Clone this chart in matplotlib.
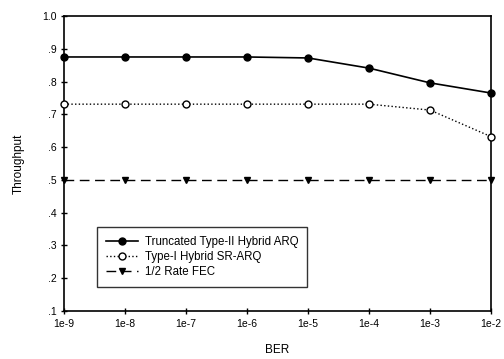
import matplotlib
matplotlib.use("Agg")
import matplotlib.pyplot as plt

plt.rcParams['font.family'] = ['Liberation Sans', 'DejaVu Sans']

ber = [1e-9, 1e-8, 1e-7, 1e-6, 1e-5, 1e-4, 1e-3, 1e-2]
xtick_labels = ['1e-9', '1e-8', '1e-7', '1e-6', '1e-5', '1e-4', '1e-3', '1e-2']
type2 = [0.875, 0.875, 0.875, 0.875, 0.872, 0.841, 0.796, 0.765]
type1 = [0.731, 0.731, 0.731, 0.731, 0.731, 0.731, 0.713, 0.632]
fec = [0.5, 0.5, 0.5, 0.5, 0.5, 0.5, 0.5, 0.5]
yticks = [0.1, 0.2, 0.3, 0.4, 0.5, 0.6, 0.7, 0.8, 0.9, 1.0]
ytick_labels = ['.1', '.2', '.3', '.4', '.5', '.6', '.7', '.8', '.9', '1.0']

fig = plt.figure(figsize=(5.04, 3.59), dpi=100)
ax = fig.add_axes([64/504, 1-311/359, 427/504, 295/359])

ax.plot(ber, type2, '-', color='black', lw=1.2, marker='o', ms=5,
        mfc='black', mec='black', label='Truncated Type-II Hybrid ARQ', clip_on=False)
ax.plot(ber, type1, ':', color='black', lw=1.0, marker='o', ms=5,
        mfc='white', mec='black', label='Type-I Hybrid SR-ARQ', clip_on=False, zorder=3)
ax.plot(ber, fec, '--', color='black', lw=1.0, marker='v', ms=5, dashes=(7, 4),
        mfc='black', mec='black', label='1/2 Rate FEC', clip_on=False)

ax.set_xscale('log')
ax.set_xlim(1e-9, 1e-2)
ax.set_ylim(0.1, 1.0)
ax.set_xticks(ber)
ax.set_xticklabels(xtick_labels)
ax.minorticks_off()
ax.set_yticks(yticks)
ax.set_yticklabels(ytick_labels)
ax.tick_params(direction='inout', length=5, width=1, labelsize=7.5, pad=3)
for s in ax.spines.values():
    s.set_linewidth(1.2)

ax.set_xlabel('BER', fontsize=8.5, labelpad=11)
ax.set_ylabel('Throughput', fontsize=8.5, labelpad=12)

leg = ax.legend(loc='lower left', bbox_to_anchor=(0.077, 0.081), fontsize=8.3,
                frameon=True, fancybox=False, edgecolor='black', handlelength=2.8,
                borderpad=0.75, labelspacing=0.28, handletextpad=0.6,
                borderaxespad=0)
leg.get_frame().set_linewidth(1.0)

fig.savefig('out.png', dpi=100)
